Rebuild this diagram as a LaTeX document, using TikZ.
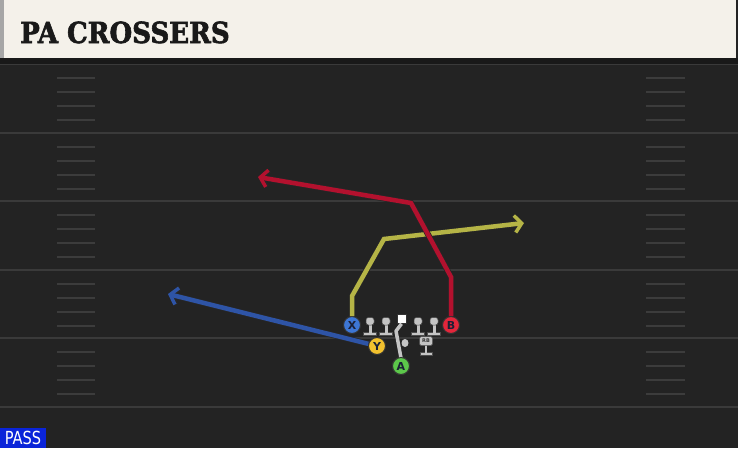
\documentclass[tikz,border=0pt]{standalone}
\usepackage{fontspec}
\setmainfont{DejaVu Sans}
\newfontfamily\titlefont[FakeBold=2]{DejaVu Serif Condensed}
\newfontfamily\tagfont{DejaVu Sans Condensed}
\usetikzlibrary{arrows.meta}
\definecolor{turf}{HTML}{232323}
\definecolor{yardline}{HTML}{3A3A3A}
\definecolor{hashgray}{HTML}{3C3C3C}
\definecolor{banner}{HTML}{F4F1EA}
\definecolor{crimson}{HTML}{B3112E}
\definecolor{olive}{HTML}{B5B446}
\definecolor{navyroute}{HTML}{2E54A6}
\definecolor{xblue}{HTML}{3D76D4}
\definecolor{bred}{HTML}{E3263B}
\definecolor{ygold}{HTML}{F2C12E}
\definecolor{agreen}{HTML}{5CC74A}
\definecolor{oline}{HTML}{C4C4C4}
\definecolor{ink}{HTML}{1B2036}
\definecolor{passblue}{HTML}{0A24D9}
\tikzset{
  route/.style={line width=4.5pt,line join=miter,-{Straight Barb[length=7pt,width=17pt,line width=3.5pt]},
    preaction={draw=black!85,line width=6pt,-{Straight Barb[length=7pt,width=17pt,line width=5pt]}}},
  player/.style={circle,minimum size=17pt,inner sep=0pt,draw=black!80,line width=1pt,
    font=\fontsize{11}{11}\selectfont\bfseries,text=ink},
  blocker/.pic={
    \fill[oline,draw=black!70,line width=.5pt] (-6.5,11) rectangle (6.5,14.5);
    \fill[oline] (-1.5,3) rectangle (1.5,12);
    \fill[oline,draw=black!70,line width=.5pt,rounded corners=2.5pt] (-4,-3.5) rectangle (4,4);
  }
}
\begin{document}
\begin{tikzpicture}[x=1pt,y=-1pt]
\useasboundingbox (0,0) rectangle (738,448);
\fill[turf] (0,0) rectangle (738,448);
% field
\foreach \yb in {64,133,201,270,338,407}
  \draw[yardline,line width=1.5pt] (0,\yb) -- (738,\yb);
\foreach \yb in {64,133,201,270,338}
  \foreach \dy in {14,28,42,56}{
    \draw[hashgray,line width=2pt] (57,\yb+\dy) -- (95,\yb+\dy);
    \draw[hashgray,line width=2pt] (646,\yb+\dy) -- (685,\yb+\dy);
  }
% title bar
\fill[black!90] (0,58) rectangle (738,64);
\fill[banner] (0,0) rectangle (736,58);
\fill[black!35] (0,0) rectangle (4,58);
\node[anchor=base west,inner sep=0pt,font=\titlefont\bfseries\fontsize{29}{29}\selectfont,text=black!90] (title) at (20,43) {PA CROSSERS};
% tag
\fill[passblue] (0,428) rectangle (46,448);
\node[text=white,inner sep=0pt,xscale=.9,font=\tagfont\fontsize{18}{18}\selectfont] (tag) at (23,437.5) {PASS};
% players
\node[player,fill=xblue] (X) at (352,325) {X};
\node[player,fill=bred] (B) at (451,325) {B};
\node[player,fill=ygold] (Y) at (377,346) {Y};
\node[player,fill=agreen] (A) at (401,366) {A};
\coordinate (x1) at (352,296);
\coordinate (x2) at (384,239);
\coordinate (x3) at (524,223);
\coordinate (b1) at (451,277);
\coordinate (b2) at (411,203);
\coordinate (b3) at (258,177);
\coordinate (y1) at (168,294);
\draw[route,olive] (X) -- (x1) -- (x2) -- (x3);
\draw[route,crimson] (B) -- (b1) -- (b2) -- (b3);
\draw[route,navyroute] (Y) -- (y1);
% line
\foreach \lx in {370,386,418,434}
  \pic at (\lx,321) {blocker};
\node[fill=white,draw=black!80,line width=.6pt,minimum size=9pt,inner sep=0pt] (C) at (401.5,319) {};
\draw[oline,line width=3.5pt,line join=round] (C.south) -- (396,331) -- (401,358);
\fill[oline] (405,343) ellipse (3.5 and 4);
% back
\fill[oline,draw=black!70,line width=.5pt] (420,352) rectangle (432,355);
\fill[oline] (425,345) rectangle (427,353);
\node[fill=oline,draw=black!70,line width=.5pt,rounded corners=1.5pt,minimum width=13pt,minimum height=9pt,
  inner sep=0pt,font=\fontsize{5}{5}\selectfont\bfseries,text=black!80] (RB) at (426,341) {RB};
\node[player,fill=agreen] at (A) {A};
\end{tikzpicture}
\end{document}
